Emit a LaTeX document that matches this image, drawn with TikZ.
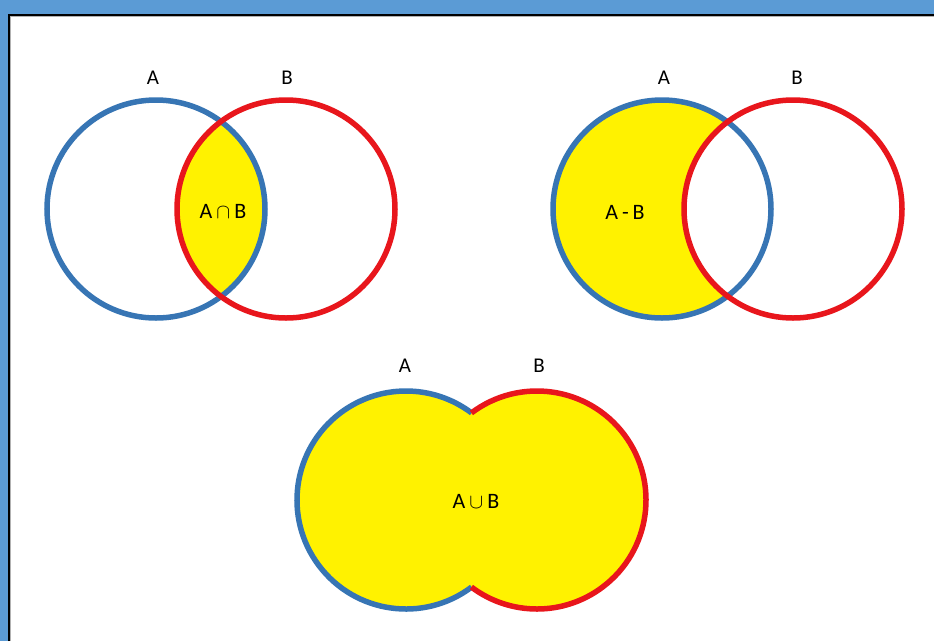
\documentclass[tikz,border=0pt]{standalone}
\usepackage{fontspec}
\setmainfont{Carlito}
\definecolor{framebg}{RGB}{91,155,213}
\definecolor{setblue}{RGB}{55,117,180}
\definecolor{setred}{RGB}{232,22,28}
\definecolor{setyellow}{RGB}{255,242,0}
\begin{document}
\begin{tikzpicture}[x=1pt,y=-1pt,
  setA/.style={draw=setblue,line width=5.5pt},
  setB/.style={draw=setred,line width=5.5pt},
  lab/.style={font=\fontsize{21}{23}\selectfont, inner sep=0pt, text=black},
  inlab/.style={font=\fontsize{22}{24}\selectfont, inner sep=0pt, text=black}]
\useasboundingbox (0,0) rectangle (934,641);
\fill[framebg] (0,0) rectangle (934,641);
\fill[white] (9,15) rectangle (934,641);
\draw[gray!60, line width=1pt] (10.5,641) -- (10.5,16.5) -- (934,16.5);
\draw[black, line width=2pt, line join=miter] (9,641) -- (9,15) -- (934,15);

\def\R{109}
% ---- intersection ----
\coordinate (A1) at (156,209);
\coordinate (B1) at (286,209);
\begin{scope}
  \clip (A1) circle[radius=\R];
  \fill[setyellow] (B1) circle[radius=\R];
\end{scope}
\draw[setA] (A1) circle[radius=\R];
\draw[setB] (B1) circle[radius=\R];
\node[lab] (la1) at (153,78) {A};
\node[lab] (lb1) at (287,78) {B};
\node[inlab] (li1) at (223,211) {A\hspace{4pt}$\cap$\hspace{4pt}B};

% ---- difference ----
\coordinate (A2) at (662,209);
\coordinate (B2) at (793,209);
\fill[setyellow] (A2) circle[radius=\R];
\fill[white] (B2) circle[radius=\R];
\draw[setA] (A2) circle[radius=\R];
\draw[setB] (B2) circle[radius=\R];
\node[lab] (la2) at (664,78) {A};
\node[lab] (lb2) at (797,78) {B};
\node[inlab] (ld2) at (625,212) {A\hspace{4pt}-\hspace{4pt}B};

% ---- union ----
\coordinate (A3) at (406,500);
\coordinate (B3) at (537,500);
\fill[setyellow] (A3) circle[radius=\R];
\fill[setyellow] (B3) circle[radius=\R];
\draw[setA] ([shift={(53:\R)}]A3) arc[start angle=53, end angle=307, radius=\R];
\draw[setB] ([shift={(-127:\R)}]B3) arc[start angle=-127, end angle=127, radius=\R];
\node[lab] (la3) at (405,366) {A};
\node[lab] (lb3) at (539,366) {B};
\node[inlab] (lu3) at (476,501) {A\hspace{4pt}$\cup$\hspace{4pt}B};
\end{tikzpicture}
\end{document}
